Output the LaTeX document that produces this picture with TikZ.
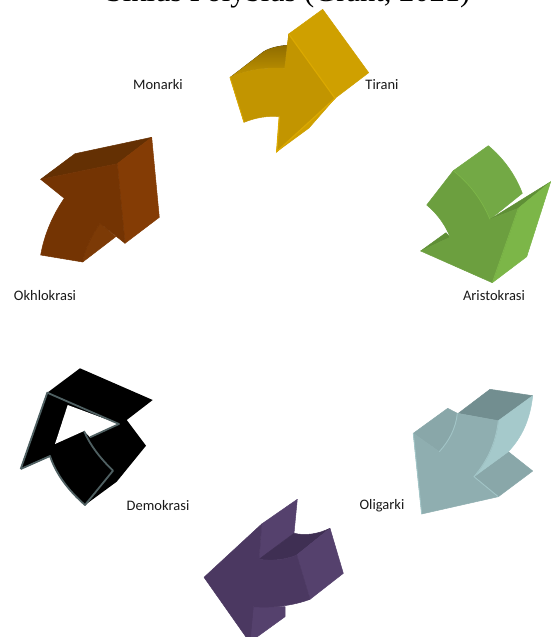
\documentclass[tikz,border=0pt]{standalone}
\usepackage{fontspec}
\setmainfont{Carlito}
\newfontfamily\titlefont{Liberation Serif}
\definecolor{goldback}{HTML}{CFA000}
\definecolor{goldfront}{HTML}{C29500}
\definecolor{goldedge}{HTML}{DBA900}
\definecolor{golddark}{HTML}{8F6C00}
\definecolor{brownfront}{HTML}{743403}
\definecolor{brownside}{HTML}{843C05}
\definecolor{browntop}{HTML}{643003}
\definecolor{browninner}{HTML}{7C3A06}
\definecolor{greenfront}{HTML}{6C9F3F}
\definecolor{greenback}{HTML}{73A945}
\definecolor{greenside}{HTML}{7CB648}
\definecolor{greendark}{HTML}{5F8F36}
\definecolor{blackedge}{HTML}{4F6062}
\definecolor{tealfront}{HTML}{8FAEB0}
\definecolor{tealback}{HTML}{89A7A9}
\definecolor{tealtop}{HTML}{728E90}
\definecolor{tealside}{HTML}{A5C9CB}
\definecolor{purplefront}{HTML}{4B3861}
\definecolor{purpleside}{HTML}{55416D}
\definecolor{purpledark}{HTML}{3F2F53}
\tikzset{
  caption/.style={font=\fontsize{14.5}{16}\selectfont, inner sep=0pt, text=black!90},
  face/.style={fill=#1, draw=#1, line width=0.5pt, line join=round},
}
\begin{document}
\begin{tikzpicture}[x=1pt,y=-1pt]
    \useasboundingbox (0,0) rectangle (551,637);
    \clip (0,0) rectangle (551,637);

    % title, cut by the top edge
    \node[font=\titlefont\fontsize{30.5}{34}\selectfont, anchor=base] (title) at (288,1.5) {Siklus Polybius (Grant, 2021)};

    % gold arrow
    \path[face=goldback] (288.7,34) -- (322.7,9.3) -- (368.7,72.7) -- (335,98.3) -- (309,128) -- (276.7,151.7) -- cycle;
    \fill[top color=golddark, bottom color=goldfront] (230,77.3) -- (263.3,51.7) .. controls (270,47.5) and (278,46) .. (287.3,45) -- (284.7,68.3) .. controls (265,67) and (245,70) .. (230,77.3) -- cycle;
    \path[face=goldfront] (230,77.3) .. controls (245,70) and (265,67) .. (284.7,68.3) -- (288.7,34) -- (335,98.3) -- (276.7,151.7) -- (279.3,116.7) .. controls (268,115.5) and (256,117.5) .. (244,122.3) -- cycle;
    \draw[goldedge, line width=1.2pt] (288.7,34) -- (335,98.3) -- (276.7,151.7) -- (279.3,116.7);
    \draw[goldedge, line width=0.8pt] (230,77.3) -- (244,122.3);

    % brown arrow
    \path[face=browntop] (40.7,179.3) -- (75,153.7) -- (151.7,137.3) -- (117.3,163.7) -- cycle;
    \path[face=brownside] (117.3,163.7) -- (151.7,137.3) -- (159.3,217.3) -- (125,243.3) -- cycle;
    \path[face=browninner] (100,223.3) .. controls (92,235) and (85,248) .. (82.7,262) -- (115.7,236.7) -- cycle;
    \path[face=brownfront] (40.7,179.3) -- (117.3,163.7) -- (125,243.3) -- (100,223.3) .. controls (92,235) and (85,248) .. (82.7,262) -- (40.7,255) .. controls (44,236) and (52,216) .. (64.3,198.3) -- cycle;

    % green arrow
    \path[face=greenback] (453.3,170.7) -- (488.3,145.7) .. controls (503,158) and (515,174) .. (522.3,193.3) -- (490,219.3) .. controls (482,200) and (470,184) .. (453.3,170.7) -- cycle;
    \path[face=greendark] (490,219.3) -- (550.7,181.7) -- (518.3,208.3) -- cycle;
    \path[face=greenside] (550.7,181.7) -- (526.7,256.7) -- (492.3,282.7) -- (518.3,208.3) -- cycle;
    \path[face=greendark] (420.7,251) -- (446,232.7) -- (450,237.3) -- cycle;
    \path[face=greenfront] (426.7,205) -- (453.3,170.7) .. controls (470,184) and (482,200) .. (490,219.3) -- (518.3,208.3) -- (492.3,282.7) -- (420.7,251) -- (450,237.3) .. controls (447,228) and (438,214) .. (426.7,205) -- cycle;
    \draw[greenside, line width=0.8pt] (453.3,170.7) .. controls (470,184) and (482,200) .. (490,219.3);
    \draw[greenside, line width=0.8pt] (518.3,208.3) -- (492.3,282.7);

    % black arrow
    \fill[black] (47.3,392.7) -- (80,368.3) -- (152.7,400) -- (126.7,420) -- (146,445.7) -- (116.7,481.7) -- (85,505) .. controls (68,490) and (56,474) .. (50,456) -- (20.7,469) -- cycle;
    \fill[white] (67.7,405) -- (119,424) -- (90,437.3) -- (84,431) -- (55,444) -- cycle;
    \draw[blackedge, line width=1.8pt, line join=round] (20.7,469) -- (47.3,392.7) -- (119,424) -- (90,437.3);
    \draw[blackedge, line width=1.8pt, line join=round] (84,431) .. controls (90,445) and (100,458) .. (113,470.7) -- (85,505) .. controls (68,490) and (56,474) .. (50,456) -- (20.7,469);

    % teal arrow
    \path[face=tealtop] (458.3,413.3) -- (490,389.3) -- (532.7,395.7) -- (498.3,420.7) -- cycle;
    \path[face=tealback] (474,476.7) -- (508.3,451.7) -- (532.7,471) -- (498.3,496.7) -- cycle;
    \path[face=tealside] (498.3,420.7) -- (532.7,395.7) .. controls (530,420) and (522,437) .. (508.3,451.7) -- (474,476.7) .. controls (488,460) and (496,442) .. (498.3,420.7) -- cycle;
    \path[face=tealback] (413.3,433.3) -- (447.7,408.3) -- (457.3,413.3) .. controls (456,428) and (449,441) .. (439.3,451.7) -- cycle;
    \path[face=tealfront] (413.3,433.3) -- (439.3,451.7) .. controls (449,441) and (456,428) .. (457.3,413.3) -- (498.3,420.7) .. controls (496,442) and (488,460) .. (474,476.7) -- (498.3,496.7) -- (421.7,514) -- cycle;
    \draw[tealside!85!tealfront, line width=0.9pt] (439.3,451.7) .. controls (449,441) and (456,428) .. (457.3,413.3);
    \draw[tealside!85!tealfront, line width=0.9pt] (498.3,420.7) .. controls (496,442) and (488,460) .. (474,476.7) -- (498.3,496.7);
    \draw[tealside!85!tealfront, line width=0.9pt] (413.3,433.3) -- (421.7,514);

    % purple arrow
    \path[face=purpleside] (261.7,524) -- (297.3,499.3) -- (294,533.3) -- (259,559.3) -- cycle;
    \path[face=purpledark] (259,559.3) -- (294,533.3) .. controls (306,536) and (318,534) .. (330,528.3) -- (296.7,555) .. controls (285,560) and (272,561) .. (259,559.3) -- cycle;
    \path[face=purpleside] (296.7,555) -- (330,528.3) -- (343.3,573.3) -- (310,599.3) -- cycle;
    \path[face=purpleside] (253.3,606.7) -- (285,606.7) -- (285,616.7) -- (250,642) -- (246,637) -- cycle;
    \path[face=purplefront] (204,577.3) -- (261.7,524) -- (259,559.3) .. controls (272,561) and (285,560) .. (296.7,555) -- (310,599.3) .. controls (292,606) and (272,608) .. (253.3,606.7) -- (250,642) -- (246,637) -- cycle;

    % names of the forms
    \node[caption] (monarki) at (158,85) {Monarki};
    \node[caption] (tirani) at (382,85) {Tirani};
    \node[caption] (aristokrasi) at (494,296) {Aristokrasi};
    \node[caption] (oligarki) at (382,506) {Oligarki};
    \node[caption] (demokrasi) at (158,506) {Demokrasi};
    \node[caption] (okhlokrasi) at (45,296) {Okhlokrasi};
\end{tikzpicture}
\end{document}
